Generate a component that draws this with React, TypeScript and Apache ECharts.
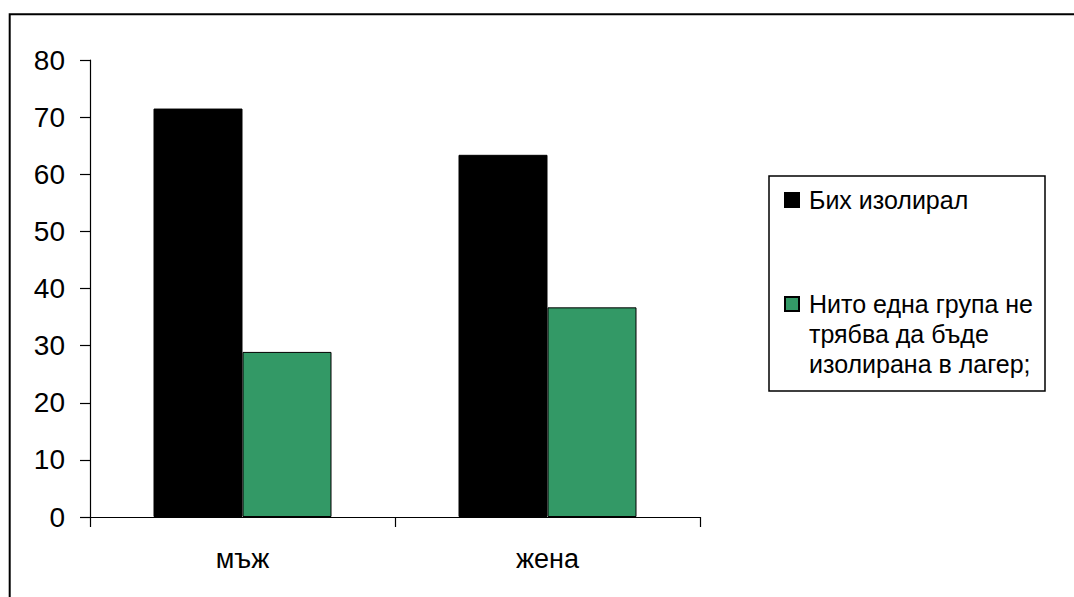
import React, { useEffect, useRef } from "react";
import * as echarts from "echarts";

const categories = ["мъж", "жена"];
const seriesNames = ["Бих изолирал", "Нито една група не\nтрябва да бъде\nизолирана в лагер;"];
const isolateValues = [71.5, 63.4];
const noGroupValues = [28.9, 36.7];
const yTicks = { min: 0, max: 80, interval: 10 };

const FONT = "'Liberation Sans', Arial, sans-serif";

export default function App() {
  const ref = useRef<HTMLDivElement>(null);
  useEffect(() => {
    document.body.style.margin = "0";
    const chart = echarts.init(ref.current!, null, { renderer: "svg" });
    const legendText = { color: "#000", fontSize: 25, lineHeight: 30, fontFamily: FONT, padding: [0, 0, 0, 5] };
    chart.setOption({
      animation: false,
      backgroundColor: "#ffffff",
      textStyle: { fontFamily: FONT },
      grid: { left: 90, right: 374, top: 60, bottom: 80, containLabel: false },
      xAxis: {
        type: "category",
        data: categories,
        axisLine: { lineStyle: { color: "#000", width: 1.2 } },
        axisTick: { show: true, length: 10, lineStyle: { color: "#000", width: 1.2 } },
        axisLabel: { color: "#000", fontSize: 27, margin: 28, fontFamily: FONT },
      },
      yAxis: {
        type: "value",
        min: yTicks.min,
        max: yTicks.max,
        interval: yTicks.interval,
        splitLine: { show: false },
        axisLine: { show: true, lineStyle: { color: "#000", width: 1.2 } },
        axisTick: { show: true, length: 10, lineStyle: { color: "#000", width: 1.2 } },
        axisLabel: { color: "#000", fontSize: 28, margin: 25, fontFamily: FONT },
      },
      legend: [
        {
          data: [seriesNames[0]],
          orient: "vertical",
          left: 784,
          top: 185,
          itemWidth: 14,
          itemHeight: 14,
          icon: "rect",
          padding: 0,
          textStyle: legendText,
        },
        {
          data: [seriesNames[1]],
          orient: "vertical",
          left: 784,
          top: 229,
          itemWidth: 14,
          itemHeight: 14,
          icon: "rect",
          padding: 0,
          formatter: (name: string) => "\n\n" + name,
          textStyle: legendText,
        },
      ],
      graphic: [
        {
          type: "rect",
          shape: { x: 9.7, y: 14.3, width: 1200, height: 800 },
          style: { fill: "none", stroke: "#000", lineWidth: 2 },
          silent: true,
        },
        {
          type: "rect",
          shape: { x: 769, y: 176, width: 276, height: 215 },
          style: { fill: "none", stroke: "#000", lineWidth: 1.5 },
          silent: true,
        },
      ],
      series: [
        {
          name: seriesNames[0],
          type: "bar",
          data: isolateValues,
          barWidth: 89,
          barGap: "0%",
          itemStyle: { color: "#000000", borderColor: "#000", borderWidth: 1 },
        },
        {
          name: seriesNames[1],
          type: "bar",
          data: noGroupValues,
          barWidth: 89,
          barGap: "0%",
          itemStyle: { color: "#339966", borderColor: "#000", borderWidth: 1 },
        },
      ],
    });
    return () => chart.dispose();
  }, []);
  return <div ref={ref} style={{ width: 1074, height: 597 }} />;
}
